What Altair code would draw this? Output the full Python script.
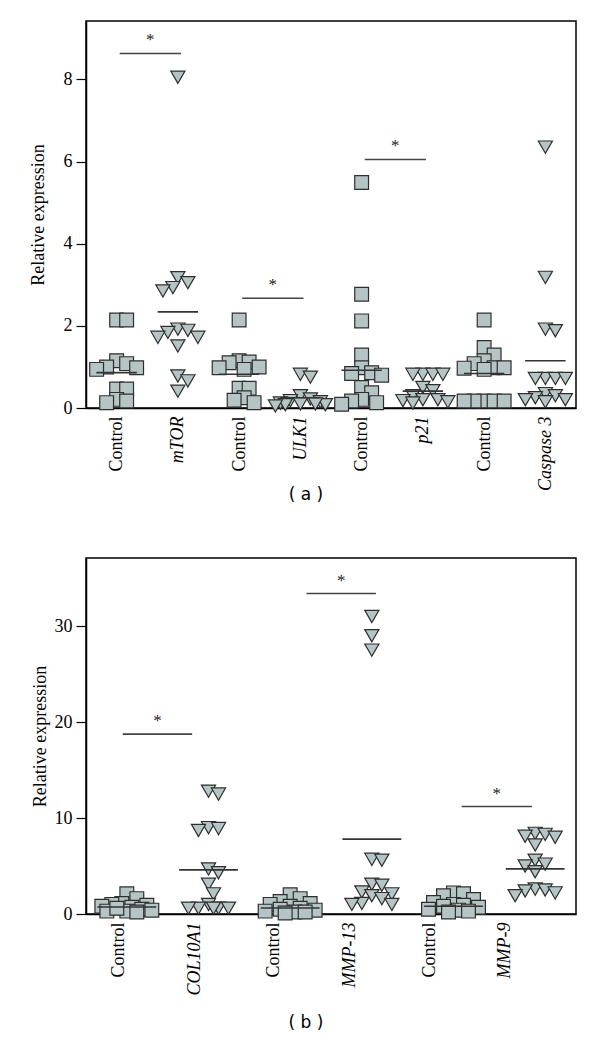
import altair as alt
import pandas as pd
import numpy as np

# ---------------- Panel (a) data ----------------
a_labels = ["Control", "mTOR", "Control", "ULK1", "Control", "p21", "Control", "Caspase 3"]
a_label_pos = [0, 1, 2, 3, 4, 5, 6, 7]
a_values = [
    [2.14, 2.14, 1.15, 1.08, 1.0, 0.98, 0.94, 0.46, 0.46, 0.21, 0.17, 0.13],
    [8.05, 3.17, 3.05, 2.93, 2.85, 1.92, 1.89, 1.84, 1.72, 1.72, 1.51, 0.78, 0.66, 0.41],
    [2.14, 1.15, 1.12, 1.1, 1.0, 0.98, 0.94, 0.48, 0.48, 0.25, 0.19, 0.13],
    [0.82, 0.75, 0.3, 0.22, 0.18, 0.15, 0.12, 0.1, 0.08, 0.08, 0.1, 0.05],
    [5.49, 2.77, 2.12, 1.29, 0.98, 0.86, 0.84, 0.8, 0.5, 0.37, 0.21, 0.17, 0.13, 0.09],
    [0.82, 0.82, 0.82, 0.82, 0.5, 0.42, 0.3, 0.2, 0.2, 0.15, 0.18, 0.12],
    [2.14, 1.47, 1.29, 1.15, 1.08, 0.98, 0.97, 0.94, 0.98, 0.17, 0.17, 0.17, 0.17, 0.17],
    [6.35, 3.18, 1.92, 1.88, 0.72, 0.72, 0.72, 0.72, 0.35, 0.3, 0.25, 0.2, 0.15, 0.2],
]
a_means = [0.86, 2.34, 0.82, 0.25, 0.92, 0.41, 0.84, 1.15]
a_sig_start = [0.05, 2.05, 4.05]
a_sig_end = [1.05, 3.05, 5.05]
a_sig_y = [8.63, 2.67, 6.05]

# ---------------- Panel (b) data ----------------
b_labels = ["Control", "COL10A1", "Control", "MMP-13", "Control", "MMP-9"]
b_label_pos = [-0.1, 0.83, 1.79, 2.73, 3.7, 4.63]
b_values = [
    [2.1, 1.6, 1.1, 1.0, 0.9, 0.8, 0.7, 0.5, 0.4, 0.3, 0.3, 0.2, 0.6],
    [12.8, 12.5, 9.0, 8.7, 8.9, 4.7, 4.3, 3.1, 2.1, 1.0, 0.6, 0.6, 0.6, 0.6, 0.6],
    [2.0, 1.6, 1.3, 1.1, 1.0, 0.8, 0.6, 0.5, 0.4, 0.3, 0.2, 0.2, 0.1],
    [31.0, 29.0, 27.5, 5.7, 5.6, 3.1, 3.0, 2.3, 2.1, 1.9, 1.6, 1.1, 1.0, 1.0],
    [2.2, 2.1, 1.9, 1.5, 1.2, 1.0, 0.9, 0.8, 0.7, 0.5, 0.4, 0.3, 0.2],
    [8.4, 8.3, 8.1, 8.0, 7.2, 5.6, 5.2, 5.0, 4.4, 2.6, 2.5, 2.4, 2.2, 1.9],
]
b_means = [0.73, 4.6, 0.63, 7.8, 0.8, 4.7]
b_sig_start = [-0.05, 2.2, 4.1]
b_sig_end = [0.8, 3.05, 4.96]
b_sig_y = [18.75, 33.4, 11.2]

FILL = "#b5c4c4"
EDGE = "#2e2e2e"
SERIF = "Liberation Serif"


def swarm(vals, ppu, min_d=10.0, step=5.0, max_k=5):
    """Simple beeswarm layout: horizontal pixel offsets so markers do not pile up."""
    cands = [0.0]
    for k in range(1, max_k + 1):
        cands += [k * step, -k * step]
    order = sorted(range(len(vals)), key=lambda i: -vals[i])
    placed = []
    res = [0.0] * len(vals)
    for i in order:
        y = vals[i] * ppu
        best, bestd = 0.0, -1.0
        for c in cands:
            d = min((float(np.hypot(c - px, y - py)) for px, py in placed), default=1e9)
            if d >= min_d:
                best = c
                break
            if d > bestd:
                bestd, best = d, c
        placed.append((best, y))
        res[i] = best
    return res


def panel(labels, label_pos, values, means, s0, s1, sy, ymax, yticks, w, h,
          caption, cap_offset, title_x, half):
    n = len(labels)
    band = w / n
    ppu = h / ymax
    rows = []
    for gi, vals in enumerate(values):
        offs = swarm(vals, ppu)
        for v, o in zip(vals, offs):
            rows.append({"g": gi, "x": gi + o / band, "value": v,
                         "kind": "Control" if gi % 2 == 0 else "Target"})
    pts = pd.DataFrame(rows)
    mdf = pd.DataFrame({"g": list(range(n)), "mean": means})
    mdf["x0"] = mdf["g"] - half
    mdf["x1"] = mdf["g"] + half
    sdf = pd.DataFrame({"x0": s0, "x1": s1, "y": sy})
    sdf["xm"] = (sdf["x0"] + sdf["x1"]) / 2
    sdf["star"] = "*"

    label_arr = "[" + ",".join("'" + l + "'" for l in labels) + "]"
    idx = "floor(datum.value + 0.4)"
    xscale = alt.Scale(domain=[-0.5, n - 0.5], nice=False, zero=False)
    yscale = alt.Scale(domain=[0, ymax], nice=False)
    xaxis = alt.Axis(values=label_pos, ticks=False, grid=False, title=None,
                     labelExpr=label_arr + "[" + idx + "]", labelAngle=270,
                     labelAlign="right", labelBaseline="middle", labelPadding=8,
                     labelFont=SERIF, labelFontSize=18, labelColor="black",
                     labelFontStyle={"condition": {"test": idx + " % 2 == 1", "value": "italic"},
                                     "value": "normal"},
                     domainColor="black", domainWidth=1.5)
    yaxis = alt.Axis(values=yticks, grid=False, tickSize=10, tickColor="black", tickWidth=1.2,
                     domainColor="black", domainWidth=1.5, labelFont=SERIF, labelFontSize=18,
                     labelColor="black", labelPadding=4, title="Relative expression",
                     titleFont=SERIF, titleFontSize=18, titleFontWeight="normal",
                     titleColor="black", titleX=title_x, titleY=h / 2,
                     titleBaseline="middle", titleAngle=270)

    base = alt.Chart(pts)
    sq = base.transform_filter("datum.kind == 'Control'").mark_point(
        shape="square", filled=True, fill=FILL, stroke=EDGE, strokeWidth=1.2,
        size=190, opacity=1).encode(
        x=alt.X("x:Q", scale=xscale, axis=xaxis),
        y=alt.Y("value:Q", scale=yscale, axis=yaxis))
    tri = base.transform_filter("datum.kind == 'Target'").mark_point(
        shape="triangle-down", filled=True, fill=FILL, stroke=EDGE, strokeWidth=1.2,
        size=200, opacity=1).encode(
        x=alt.X("x:Q", scale=xscale),
        y=alt.Y("value:Q", scale=yscale))
    mean_rule = alt.Chart(mdf).mark_rule(color="#333333", strokeWidth=1.6).encode(
        x=alt.X("x0:Q", scale=xscale), x2="x1:Q",
        y=alt.Y("mean:Q", scale=yscale))
    sig_rule = alt.Chart(sdf).mark_rule(color="#444444", strokeWidth=1.6).encode(
        x=alt.X("x0:Q", scale=xscale), x2="x1:Q",
        y=alt.Y("y:Q", scale=yscale))
    star = alt.Chart(sdf).mark_text(font=SERIF, fontSize=17, dy=-4, baseline="bottom",
                                    color="#222222").encode(
        x=alt.X("xm:Q", scale=xscale), y=alt.Y("y:Q", scale=yscale), text="star:N")
    return alt.layer(sq, tri, mean_rule, sig_rule, star).properties(
        width=w, height=h,
        title=alt.TitleParams(caption, orient="bottom", anchor="middle", font="DejaVu Sans",
                              fontSize=17, fontWeight="normal", color="black",
                              offset=cap_offset, dx=-25))


pa = panel(a_labels, a_label_pos, a_values, a_means, a_sig_start, a_sig_end, a_sig_y,
           9.42, [0, 2, 4, 6, 8], 490, 387, "( a )", -4, -48, 0.33)
pb = panel(b_labels, b_label_pos, b_values, b_means, b_sig_start, b_sig_end, b_sig_y,
           37.1, [0, 10, 20, 30], 490, 356, "( b )", 20, -46, 0.36)

chart = alt.vconcat(pa, pb, spacing=150, bounds="flush").properties(
    padding={"left": 20, "top": 12, "right": 10, "bottom": 5}
).configure(background="white").configure_view(stroke="black", strokeWidth=1.5)

chart.save("out.html", embed_options={"renderer": "svg", "actions": False})
